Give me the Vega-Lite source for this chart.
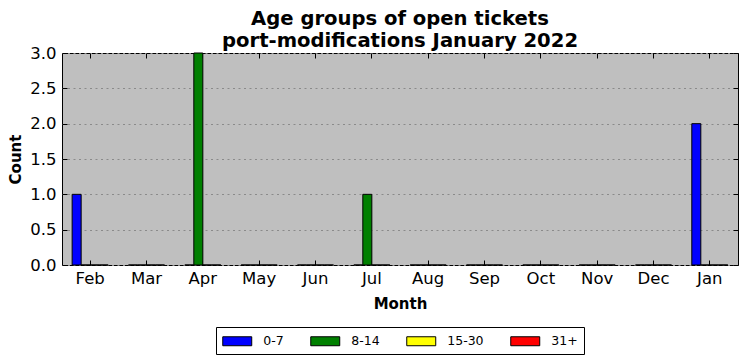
{
  "$schema": "https://vega.github.io/schema/vega-lite/v6.json",
  "width": 676,
  "height": 212,
  "autosize": {"type": "none"},
  "padding": {"left": 62, "top": 53, "right": 9, "bottom": 96},
  "background": "white",
  "title": {
    "text": ["Age groups of open tickets", "port-modifications January 2022"],
    "font": "DejaVu Sans",
    "fontSize": 19.6,
    "fontWeight": "bold",
    "color": "black",
    "anchor": "middle",
    "lineHeight": 22,
    "offset": -7
  },
  "data": {
    "values": [
      {"month": "Feb", "group": "0-7", "count": 1},
      {"month": "Feb", "group": "8-14", "count": 0},
      {"month": "Feb", "group": "15-30", "count": 0},
      {"month": "Feb", "group": "31+", "count": 0},
      {"month": "Mar", "group": "0-7", "count": 0},
      {"month": "Mar", "group": "8-14", "count": 0},
      {"month": "Mar", "group": "15-30", "count": 0},
      {"month": "Mar", "group": "31+", "count": 0},
      {"month": "Apr", "group": "0-7", "count": 0},
      {"month": "Apr", "group": "8-14", "count": 3},
      {"month": "Apr", "group": "15-30", "count": 0},
      {"month": "Apr", "group": "31+", "count": 0},
      {"month": "May", "group": "0-7", "count": 0},
      {"month": "May", "group": "8-14", "count": 0},
      {"month": "May", "group": "15-30", "count": 0},
      {"month": "May", "group": "31+", "count": 0},
      {"month": "Jun", "group": "0-7", "count": 0},
      {"month": "Jun", "group": "8-14", "count": 0},
      {"month": "Jun", "group": "15-30", "count": 0},
      {"month": "Jun", "group": "31+", "count": 0},
      {"month": "Jul", "group": "0-7", "count": 0},
      {"month": "Jul", "group": "8-14", "count": 1},
      {"month": "Jul", "group": "15-30", "count": 0},
      {"month": "Jul", "group": "31+", "count": 0},
      {"month": "Aug", "group": "0-7", "count": 0},
      {"month": "Aug", "group": "8-14", "count": 0},
      {"month": "Aug", "group": "15-30", "count": 0},
      {"month": "Aug", "group": "31+", "count": 0},
      {"month": "Sep", "group": "0-7", "count": 0},
      {"month": "Sep", "group": "8-14", "count": 0},
      {"month": "Sep", "group": "15-30", "count": 0},
      {"month": "Sep", "group": "31+", "count": 0},
      {"month": "Oct", "group": "0-7", "count": 0},
      {"month": "Oct", "group": "8-14", "count": 0},
      {"month": "Oct", "group": "15-30", "count": 0},
      {"month": "Oct", "group": "31+", "count": 0},
      {"month": "Nov", "group": "0-7", "count": 0},
      {"month": "Nov", "group": "8-14", "count": 0},
      {"month": "Nov", "group": "15-30", "count": 0},
      {"month": "Nov", "group": "31+", "count": 0},
      {"month": "Dec", "group": "0-7", "count": 0},
      {"month": "Dec", "group": "8-14", "count": 0},
      {"month": "Dec", "group": "15-30", "count": 0},
      {"month": "Dec", "group": "31+", "count": 0},
      {"month": "Jan", "group": "0-7", "count": 2},
      {"month": "Jan", "group": "8-14", "count": 0},
      {"month": "Jan", "group": "15-30", "count": 0},
      {"month": "Jan", "group": "31+", "count": 0}
    ]
  },
  "layer": [
    {
      "mark": {"type": "bar", "stroke": "black", "strokeWidth": 1},
      "encoding": {
        "x": {
          "field": "month",
          "type": "nominal",
          "sort": ["Feb", "Mar", "Apr", "May", "Jun", "Jul", "Aug", "Sep", "Oct", "Nov", "Dec", "Jan"],
          "scale": {"paddingInner": 0.36, "paddingOuter": 0.18},
          "axis": {
            "orient": "bottom",
            "title": "Month",
            "labelAngle": 0,
            "domain": false,
            "grid": false,
            "tickSize": -5,
            "labelPadding": 10
          }
        },
        "xOffset": {
          "field": "group",
          "type": "nominal",
          "sort": ["0-7", "8-14", "15-30", "31+"],
          "scale": {"paddingInner": 0, "paddingOuter": 0}
        },
        "y": {
          "field": "count",
          "type": "quantitative",
          "stack": null,
          "scale": {"domain": [0, 3], "nice": false, "zero": true},
          "axis": {
            "orient": "left",
            "title": "Count",
            "values": [0, 0.5, 1, 1.5, 2, 2.5, 3],
            "format": ".1f",
            "domain": false,
            "grid": true,
            "gridColor": "#8a8a8a",
            "gridDash": [2, 3.5],
            "gridWidth": 1,
            "tickSize": -5,
            "labelPadding": 11
          }
        },
        "color": {
          "field": "group",
          "type": "nominal",
          "sort": ["0-7", "8-14", "15-30", "31+"],
          "scale": {
            "domain": ["0-7", "8-14", "15-30", "31+"],
            "range": ["#0000ff", "#008000", "#ffff00", "#ff0000"]
          },
          "legend": {
            "orient": "bottom",
            "direction": "horizontal",
            "title": null,
            "symbolType": "M-2,-0.62H2V0.62H-2Z",
            "symbolSize": 210,
            "symbolOffset": 7.25,
            "symbolStrokeColor": "black",
            "symbolStrokeWidth": 1,
            "symbolOpacity": 1,
            "labelOffset": 18,
            "labelFont": "DejaVu Sans",
            "labelFontSize": 12.5,
            "labelColor": "black",
            "columnPadding": 24,
            "padding": 6,
            "strokeColor": "black",
            "fillColor": "white",
            "offset": 15
          }
        }
      }
    },
    {
      "mark": {"type": "bar", "opacity": 0},
      "encoding": {
        "x": {
          "field": "month",
          "type": "nominal",
          "sort": ["Feb", "Mar", "Apr", "May", "Jun", "Jul", "Aug", "Sep", "Oct", "Nov", "Dec", "Jan"],
          "axis": {
            "orient": "top",
            "title": null,
            "labels": false,
            "domain": false,
            "grid": false,
            "tickSize": -5
          }
        },
        "y": {
          "field": "count",
          "type": "quantitative",
          "stack": null,
          "axis": {
            "orient": "right",
            "title": null,
            "labels": false,
            "values": [0, 0.5, 1, 1.5, 2, 2.5, 3],
            "domain": false,
            "grid": false,
            "tickSize": -5
          }
        }
      }
    }
  ],
  "resolve": {"axis": {"x": "independent", "y": "independent"}},
  "config": {
    "view": {"fill": "#bfbfbf", "stroke": "black", "strokeWidth": 1},
    "axis": {
      "labelFont": "DejaVu Sans",
      "labelFontSize": 16.5,
      "labelColor": "black",
      "tickColor": "black",
      "tickWidth": 1,
      "titleFont": "DejaVu Sans",
      "titleFontSize": 15,
      "titleFontWeight": "bold",
      "titleColor": "black"
    },
    "axisX": {"titlePadding": 10},
    "axisY": {"titlePadding": 6},
    "legend": {"layout": {"bottom": {"anchor": "middle"}}}
  }
}
